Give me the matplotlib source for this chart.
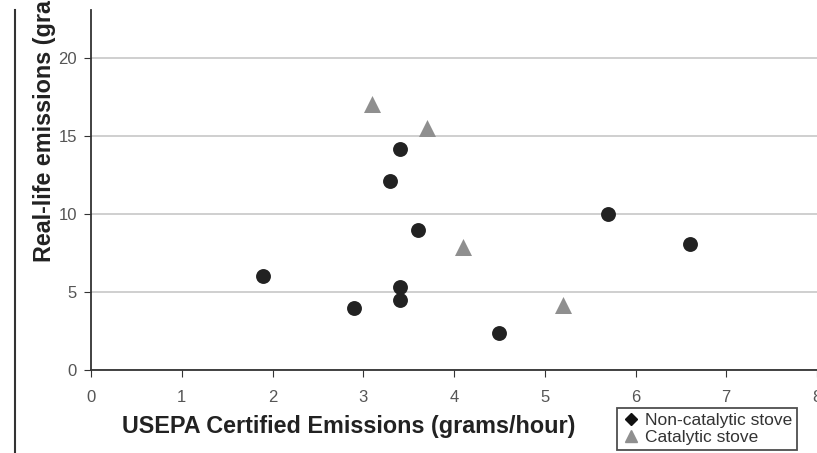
import matplotlib.pyplot as plt
from matplotlib.lines import Line2D

plt.rcParams['font.family'] = ['Liberation Sans', 'DejaVu Sans']

# Non-catalytic stoves
noncat_x = [1.9, 2.9, 3.3, 3.4, 3.4, 3.4, 3.6, 4.5, 5.7, 6.6]
noncat_y = [6.0, 4.0, 12.1, 14.2, 5.3, 4.5, 9.0, 2.4, 10.0, 8.1]

# Catalytic stoves
cat_x = [3.1, 3.7, 4.1, 5.2]
cat_y = [17.1, 15.5, 7.9, 4.2]

x_ticks = [0, 1, 2, 3, 4, 5, 6, 7, 8]
y_ticks = [0, 5, 10, 15, 20]

fig = plt.figure(figsize=(8.17, 4.53), dpi=100)
ax = fig.add_axes([91 / 817, 1 - 370 / 453, 726 / 817, 360 / 453])

ax.scatter(noncat_x, noncat_y, s=115, marker='o', color='#222222', zorder=3, linewidths=0)
ax.scatter(cat_x, cat_y, s=150, marker='^', color='#8f8f8f', zorder=3, linewidths=0)

ax.set_xlim(0, 8)
ax.set_ylim(0, 23.1)
ax.set_xticks(x_ticks)
ax.set_yticks(y_ticks)
ax.grid(axis='y', color='#cccccc', linewidth=1.3)
ax.set_axisbelow(True)

for side in ['top', 'right']:
    ax.spines[side].set_visible(False)
for side in ['left', 'bottom']:
    ax.spines[side].set_color('#333333')
    ax.spines[side].set_linewidth(1.3)

ax.tick_params(axis='x', length=5, pad=9.5, labelsize=12, labelcolor='#555555', color='#333333')
ax.tick_params(axis='y', length=5, pad=5, labelsize=12, labelcolor='#555555', color='#333333')

fig.text(122 / 817, 1 - 426 / 453, 'USEPA Certified Emissions (grams/hour)',
         fontsize=16.8, fontweight='bold', ha='left', va='center', color='#222222')
fig.text(45 / 817, 1 - 262 / 453, 'Real-life emissions (grams/hour)',
         fontsize=16.8, fontweight='bold', rotation=90, ha='center', va='bottom', color='#222222')

# outer border line on the left
fig.add_artist(Line2D([15 / 817, 15 / 817], [0, 1 - 10 / 453], transform=fig.transFigure,
                      color='#333333', linewidth=1.5))

handles = [
    Line2D([], [], marker='D', linestyle='', color='#111111', markersize=6, label='Non-catalytic stove'),
    Line2D([], [], marker='^', linestyle='', color='#8f8f8f', markersize=8, label='Catalytic stove'),
]
leg = fig.legend(handles=handles, loc='lower left', bbox_to_anchor=(617 / 817, 3 / 453),
                 fontsize=12.5, frameon=True, fancybox=False, handletextpad=0.3,
                 handlelength=1.0, borderpad=0.3, labelspacing=0.1, borderaxespad=0)
leg.get_frame().set_edgecolor('#222222')
leg.get_frame().set_linewidth(1.3)
for t in leg.get_texts():
    t.set_color('#333333')

fig.savefig('out.png', dpi=100)
